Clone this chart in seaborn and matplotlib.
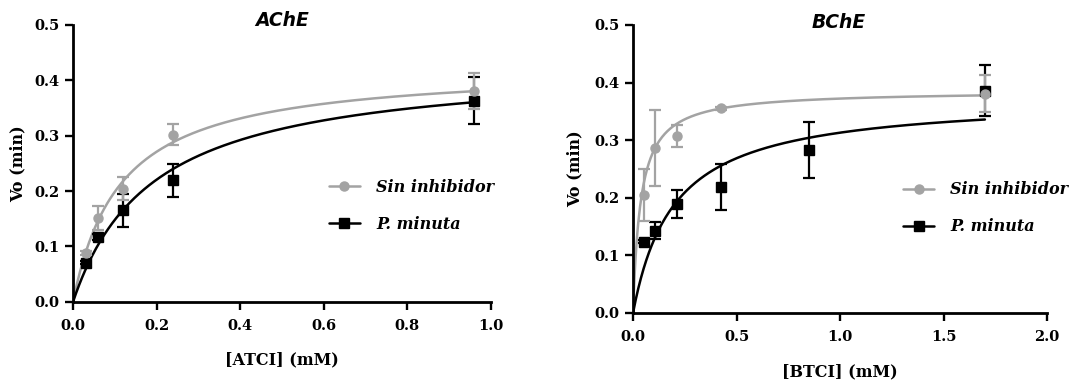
import numpy as np
import pandas as pd
import matplotlib
matplotlib.use("Agg")
import matplotlib.pyplot as plt
import seaborn as sns
from matplotlib.lines import Line2D

# ---- AChE (substrate ATCI) ----
ache_conc = [0.03, 0.06, 0.12, 0.24, 0.96]
ache_ctrl_v = [0.088, 0.151, 0.204, 0.301, 0.380]
ache_ctrl_err = [0.004, 0.022, 0.021, 0.019, 0.033]
ache_pm_v = [0.071, 0.117, 0.165, 0.219, 0.363]
ache_pm_err = [0.003, 0.005, 0.029, 0.029, 0.042]

# ---- BChE (substrate BTCI) ----
bche_conc_ctrl = [0.053, 0.106, 0.2125, 0.425, 1.7]
bche_ctrl_v = [0.205, 0.287, 0.308, 0.355, 0.381]
bche_ctrl_err = [0.045, 0.066, 0.019, 0.003, 0.032]
bche_conc_pm = [0.053, 0.106, 0.2125, 0.425, 0.85, 1.7]
bche_pm_v = [0.124, 0.143, 0.189, 0.218, 0.283, 0.386]
bche_pm_err = [0.002, 0.015, 0.024, 0.040, 0.048, 0.044]

# Michaelis-Menten fit parameters: (Vmax, Km)
ache_ctrl_fit = (0.425, 0.114)
ache_pm_fit = (0.432, 0.192)
bche_ctrl_fit = (0.386, 0.037)
bche_pm_fit = (0.375, 0.198)

series_names = ["Sin inhibidor", "P. minuta"]
titles = ["AChE", "BChE"]
xlabels = ["[ATCI] (mM)", "[BTCI] (mM)"]
ylabel = "Vo (min)"
ache_xticks = [0.0, 0.2, 0.4, 0.6, 0.8, 1.0]
bche_xticks = [0.0, 0.5, 1.0, 1.5, 2.0]
yticks = [0.0, 0.1, 0.2, 0.3, 0.4, 0.5]

GRAY = "#a3a3a3"
BLACK = "#000000"
palette = {series_names[0]: GRAY, series_names[1]: BLACK}
markers = {series_names[0]: "o", series_names[1]: "s"}

sns.set_theme(style="ticks")
plt.rcParams["font.family"] = ["DejaVu Serif"]
plt.rcParams["axes.linewidth"] = 2.0
for key in ["text.color", "axes.labelcolor", "xtick.color", "ytick.color",
            "xtick.labelcolor", "ytick.labelcolor", "axes.edgecolor"]:
    plt.rcParams[key] = BLACK

fig = plt.figure(figsize=(10.86, 3.83), dpi=100)
ax_a = fig.add_axes([0.0672, 0.2115, 0.3849, 0.7245])
ax_b = fig.add_axes([0.5829, 0.1828, 0.3812, 0.7520])


def mm_curve(name, xmax, fit):
    vmax, km = fit
    s = np.linspace(0, xmax, 400)
    return pd.DataFrame({"S": s, "V": vmax * s / (km + s), "serie": name})


def panel(ax, curves, points, xticks, xlabel, title_xy, title, leg_anchor,
          ylab_x, xlab_y):
    df = pd.concat(curves, ignore_index=True)
    sns.lineplot(data=df, x="S", y="V", hue="serie", palette=palette,
                 linewidth=1.8, legend=False, ax=ax, zorder=2)
    for name, x, v, e in points:
        ax.errorbar(x, v, yerr=e, fmt=markers[name], color=palette[name],
                    markersize=6.5, elinewidth=1.6, capsize=4.5,
                    capthick=1.6, zorder=3, clip_on=False)

    ax.set_xlim(0, xticks[-1])
    ax.set_ylim(0, 0.5)
    ax.set_xticks(xticks)
    ax.set_yticks(yticks)
    ax.set_xticklabels([f"{t:.1f}" for t in xticks])
    ax.set_yticklabels([f"{t:.1f}" for t in yticks])
    for lab in ax.get_xticklabels() + ax.get_yticklabels():
        lab.set_fontweight("bold")
        lab.set_fontsize(10.5)
        lab.set_color(BLACK)
    ax.tick_params(axis="both", direction="out", length=5.5, width=1.7,
                   color=BLACK)
    ax.tick_params(axis="x", pad=7)
    ax.tick_params(axis="y", pad=4)
    sns.despine(ax=ax)
    ax.spines["left"].set_color(BLACK)
    ax.spines["bottom"].set_color(BLACK)
    ax.grid(False)
    ax.set_facecolor("white")

    ax.set_xlabel(xlabel, fontsize=11.5, fontweight="bold", color=BLACK)
    ax.set_ylabel(ylabel, fontsize=11.5, fontweight="bold", color=BLACK)
    ax.xaxis.set_label_coords(0.5, xlab_y)
    ax.xaxis.label.set_va("center")
    ax.yaxis.set_label_coords(ylab_x, 0.5)
    ax.yaxis.label.set_va("center")

    fig.text(title_xy[0], title_xy[1], title, ha="center", va="baseline",
             family="DejaVu Sans", fontweight="bold", style="italic",
             fontsize=13.5, color=BLACK)

    handles = [Line2D([], [], color=palette[n], marker=markers[n],
                      markersize=6.5, linewidth=1.8) for n in series_names]
    leg = ax.legend(handles, series_names, loc="upper left",
                    bbox_to_anchor=leg_anchor, frameon=False, borderpad=0,
                    borderaxespad=0, handlelength=1.95, handletextpad=1.0,
                    labelspacing=1.25,
                    prop={"family": "DejaVu Serif", "weight": "bold",
                          "style": "italic", "size": 11.5})
    for t in leg.get_texts():
        t.set_color(BLACK)


panel(ax_a,
      [mm_curve(series_names[0], ache_conc[-1], ache_ctrl_fit),
       mm_curve(series_names[1], ache_conc[-1], ache_pm_fit)],
      [(series_names[1], ache_conc, ache_pm_v, ache_pm_err),
       (series_names[0], ache_conc, ache_ctrl_v, ache_ctrl_err)],
      ache_xticks, xlabels[0], (0.2597, 0.932), titles[0],
      (0.612, 0.443), -0.1316, -0.209)

panel(ax_b,
      [mm_curve(series_names[0], bche_conc_ctrl[-1], bche_ctrl_fit),
       mm_curve(series_names[1], bche_conc_pm[-1], bche_pm_fit)],
      [(series_names[1], bche_conc_pm, bche_pm_v, bche_pm_err),
       (series_names[0], bche_conc_ctrl, bche_ctrl_v, bche_ctrl_err)],
      bche_xticks, xlabels[1], (0.772, 0.927), titles[1],
      (0.652, 0.457), -0.140, -0.205)

fig.savefig("out.png", dpi=100, facecolor="white")
